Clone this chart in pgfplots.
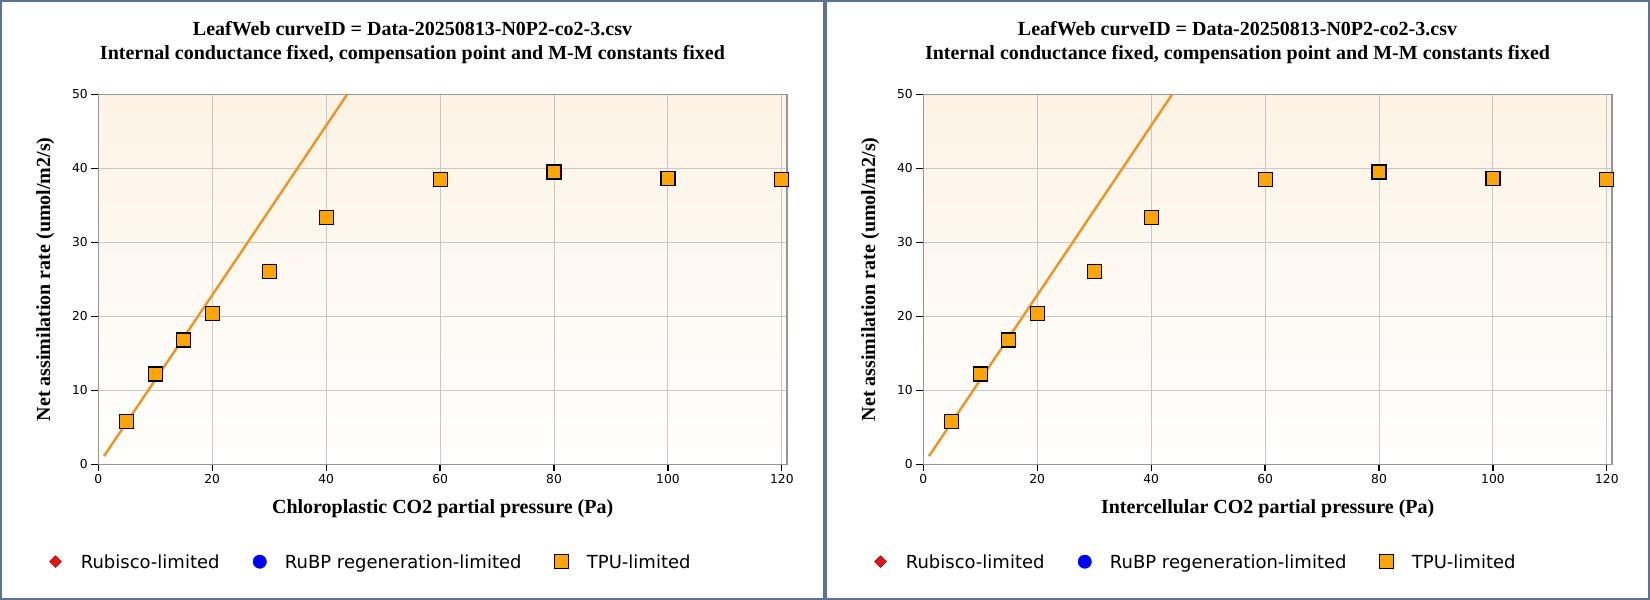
\documentclass[border=0pt]{standalone}
\usepackage{fontspec}
\setmainfont{Liberation Serif}
\newfontfamily\vfont{DejaVu Sans}
\usepackage{pgfplots}
\usepackage{pgfplotstable}
\pgfplotsset{compat=1.18}
\definecolor{framec}{RGB}{91,115,150}
\definecolor{bgtop}{RGB}{252,243,228}
\definecolor{lineor}{RGB}{240,148,30}
\definecolor{ptor}{RGB}{255,165,0}
\definecolor{gridc}{RGB}{200,200,200}
\definecolor{axc}{RGB}{150,150,150}

\pgfplotstableread{
x y
5 5.8
10 12.2
15 16.8
20 20.4
30 26.0
40 33.4
60 38.5
80 39.5
100 38.65
120 38.5
}\tpudata
\pgfplotstableread{
x y
1 1.1
43.7 50
}\linedata

\pgfplotsset{
  myleg/.style={legend image code/.code={\path (-12.5pt,0pt) (25pt,0pt); \draw[##1] plot coordinates {(0pt,0pt)};}},
  leafaxis/.style={
    scale only axis, width=688.7pt, height=370pt,
    xmin=0, xmax=120.9, ymin=0, ymax=50,
    xtick={0,20,...,120}, ytick={0,10,...,50},
    grid=major, major grid style={gridc, line width=1pt},
    axis line style={axc, line width=1.2pt},
    tick align=outside, major tick length=7pt, tick pos=left,
    major tick style={black, line width=1.2pt},
    axis background/.style={shade, top color=bgtop, bottom color=white},
    ticklabel style={font=\vfont\fontsize{12.3}{14}\selectfont},
    /pgf/number format/assume math mode=true,
    label style={font=\bfseries\fontsize{20}{23}\selectfont},
    xlabel style={at={(axis description cs:0.5,0)}, anchor=base, yshift=-48.7pt},
    ylabel style={at={(axis description cs:-0.0701,0.5)}, anchor=base},
    ylabel={Net assimilation rate (umol/m2/s)},
    clip mode=individual,
    legend columns=3,
    legend cell align=left,
    legend style={at={(axis description cs:-0.0810,-0.2632)}, anchor=west, draw=none, fill=none, inner sep=0pt,
      font=\vfont\fontsize{18}{21}\selectfont,
      nodes={inner sep=0pt, text height=13.2pt, text depth=0pt},
      /tikz/every even column/.append style={column sep=27.5pt}},
  }
}

\newcommand{\panelcontent}{%
  \addlegendimage{only marks, mark=square*, mark size=4.1pt, mark options={rotate=45}, draw={rgb,255:red,190;green,0;blue,0}, fill={rgb,255:red,230;green,20;blue,20}, line width=0.6pt, myleg}
  \addlegendimage{only marks, mark=*, mark size=6.7pt, draw=blue, fill=blue, myleg}
  \addplot[lineor, line width=2.4pt, forget plot] table[x=x,y=y] {\linedata};
  \addplot[only marks, mark=square*, mark size=7pt, mark options={draw=black, fill=ptor, line width=1.1pt}, myleg] table[x=x,y=y] {\tpudata};
  \legend{Rubisco-limited, RuBP regeneration-limited, TPU-limited}
}

\begin{document}
\begin{tikzpicture}[x=1pt,y=1pt]
\useasboundingbox (0,0) rectangle (1650,600);
\draw[framec, line width=2.4pt] (1.2,1.2) rectangle (823.8,598.8);
\draw[framec, line width=2.4pt] (826.2,1.2) rectangle (1648.8,598.8);

\foreach \cx in {412.5,1237.5}{
  \node[anchor=base, font=\bfseries\fontsize{20}{23}\selectfont, inner sep=0pt] at (\cx,564) {LeafWeb curveID = Data-20250813-N0P2-co2-3.csv};
  \node[anchor=base, font=\bfseries\fontsize{20}{23}\selectfont, inner sep=0pt] at (\cx,540.7) {Internal conductance fixed, compensation point and M-M constants fixed};
}

\begin{axis}[leafaxis, at={(98.3pt,135.7pt)}, anchor=south west,
  xlabel={Chloroplastic CO2 partial pressure (Pa)}]
  \panelcontent
\end{axis}

\begin{axis}[leafaxis, at={(923.3pt,135.7pt)}, anchor=south west,
  xlabel={Intercellular CO2 partial pressure (Pa)}]
  \panelcontent
\end{axis}
\end{tikzpicture}
\end{document}
